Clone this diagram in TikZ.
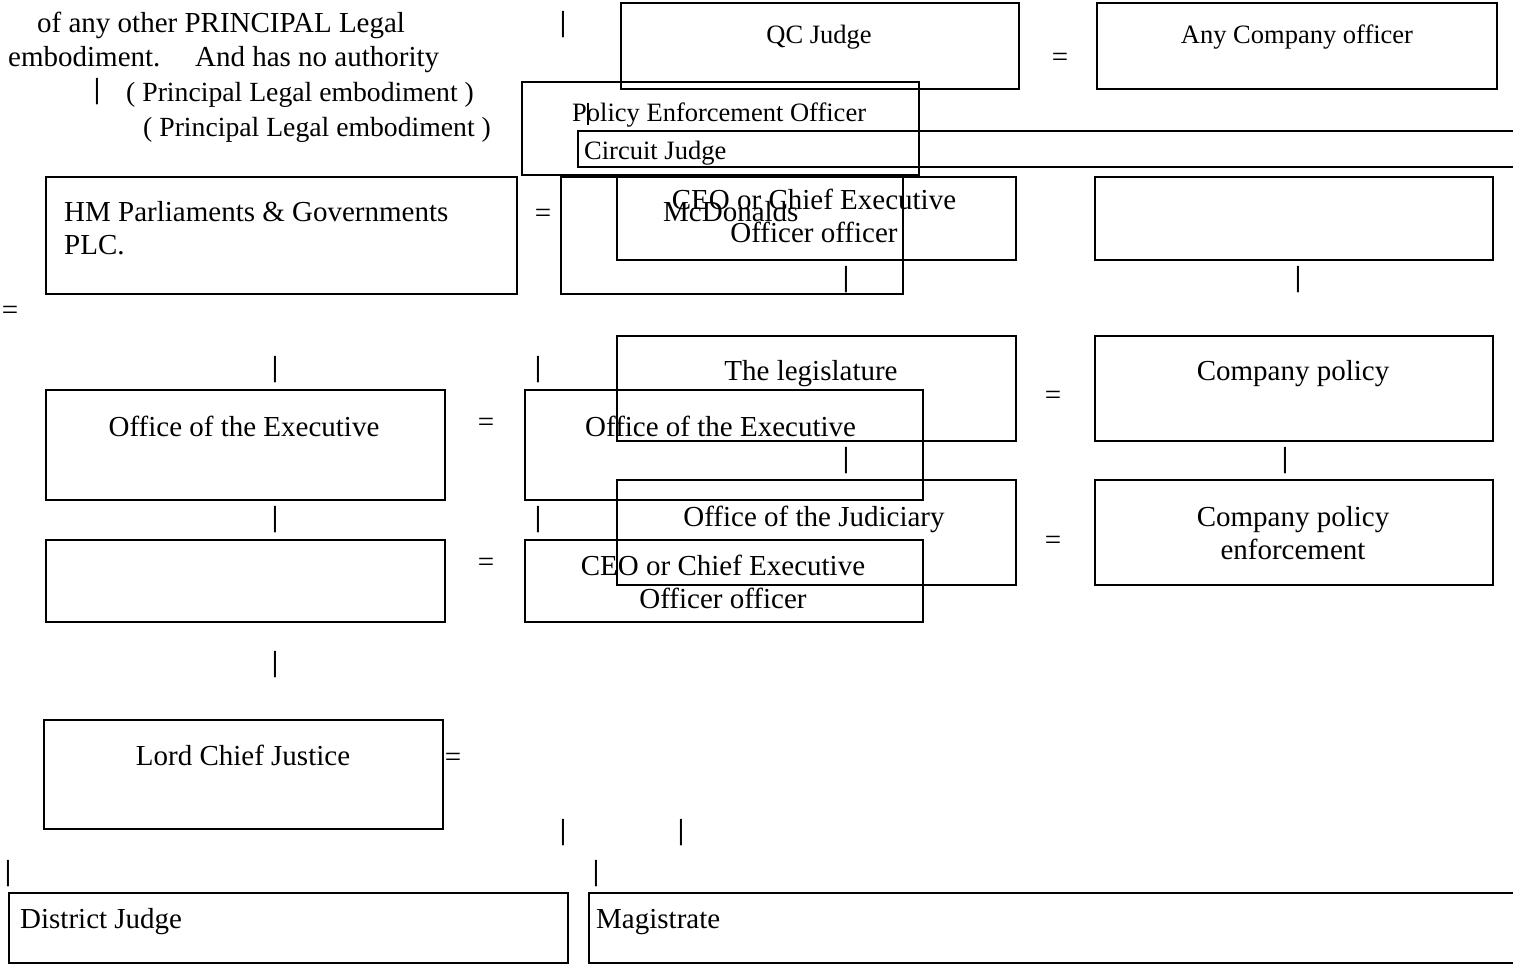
\documentclass[tikz,border=0pt]{standalone}
\usepackage{fontspec}
\setmainfont{Liberation Serif}
\newcommand{\bigf}{\fontsize{29}{33}\selectfont}
\newcommand{\smallf}{\fontsize{26.5}{30}\selectfont}
\newcommand{\midf}{\fontsize{27.7}{32}\selectfont}
\begin{document}
\begin{tikzpicture}[x=1pt,y=-1pt,
  boxline/.style={draw=black,line width=1.8pt},
  txt/.style={inner sep=0pt,font=\bigf},
  mtxt/.style={inner sep=0pt,font=\midf},
  stxt/.style={inner sep=0pt,font=\smallf},
  sym/.style={inner sep=0pt,font=\bigf,anchor=center},
  bar/.style={inner sep=0pt,font=\bigf\bfseries,anchor=center}]
\useasboundingbox (0,0) rectangle (1513,965);
% top-left free text
\node[txt,anchor=base west] (t1) at (37,33) {of any other PRINCIPAL Legal};
\node[txt,anchor=base west] (t2) at (8,67) {embodiment.\hspace{25pt} And has no authority};
\node[bar] (b1) at (97,92) {|};
\node[mtxt,anchor=base west] (t3) at (126,102) {( Principal Legal embodiment )};
\node[mtxt,anchor=base west] (t4) at (143,137) {( Principal Legal embodiment )};
\node[bar] (b2) at (563,25) {|};
% top row
\draw[boxline] (621,3) rectangle (1019,89);
\node[stxt,anchor=base] (qc) at (819,44) {QC Judge};
\node[sym] (e1) at (1060,60) {=};
\draw[boxline] (1097,3) rectangle (1497,89);
\node[stxt,anchor=base] (any) at (1297,44) {Any Company officer};
\draw[boxline] (522,82) rectangle (919,175);
\node[stxt,anchor=base west] (peo) at (572,122) {Policy Enforcement Officer};
\draw[line width=1.2pt] (588,103) -- (588,125);
\draw[boxline] (578,131) rectangle (1530,167);
\node[stxt,anchor=base west] (cj) at (584,160) {Circuit Judge};
% row 2
\draw[boxline] (46,177) rectangle (517,294);
\node[txt,anchor=base west] (hm1) at (64,222) {HM Parliaments \& Governments};
\node[txt,anchor=base west] (hm2) at (64,255) {PLC.};
\node[sym] (e2) at (543,216) {=};
\draw[boxline] (561,177) rectangle (903,294);
\node[txt,anchor=base west] (mcd) at (663,222) {McDonalds};
\draw[boxline] (617,177) rectangle (1016,260);
\node[txt,anchor=base] (ceo1a) at (814,210) {CEO or Chief Executive};
\node[txt,anchor=base] (ceo1b) at (814,243) {Officer officer};
\node[bar] (b3) at (846,280) {|};
\draw[boxline] (1095,177) rectangle (1493,260);
\node[bar] (b4) at (1298,280) {|};
\node[sym] (e3) at (10,313) {=};
% row 3
\node[bar] (b5) at (275,370) {|};
\node[bar] (b6) at (538,370) {|};
\draw[boxline] (617,336) rectangle (1016,441);
\node[txt,anchor=base] (leg) at (811,381) {The legislature};
\node[sym] (e4) at (1053,398) {=};
\draw[boxline] (1095,336) rectangle (1493,441);
\node[txt,anchor=base] (cp) at (1293,381) {Company policy};
\draw[boxline] (46,390) rectangle (445,500);
\node[txt,anchor=base] (oe1) at (244,436) {Office of the Executive};
\node[sym] (e5) at (486,425) {=};
\draw[boxline] (525,390) rectangle (923,500);
\node[txt,anchor=base west] (oe2) at (585,436) {Office of the Executive};
\node[bar] (b7) at (846,461) {|};
\node[bar] (b8) at (1285,461) {|};
% row 4
\node[bar] (b9) at (275,520) {|};
\node[bar] (b10) at (538,520) {|};
\draw[boxline] (617,480) rectangle (1016,585);
\node[txt,anchor=base] (jud) at (814,526) {Office of the Judiciary};
\node[sym] (e6) at (1053,543) {=};
\draw[boxline] (1095,480) rectangle (1493,585);
\node[txt,anchor=base] (cpe1) at (1293,526) {Company policy};
\node[txt,anchor=base] (cpe2) at (1293,559) {enforcement};
\draw[boxline] (46,540) rectangle (445,622);
\node[sym] (e7) at (486,565) {=};
\draw[boxline] (525,540) rectangle (923,622);
\node[txt,anchor=base] (ceo2a) at (723,575) {CEO or Chief Executive};
\node[txt,anchor=base] (ceo2b) at (723,608) {Officer officer};
% row 5
\node[bar] (b11) at (275,665) {|};
\draw[boxline] (44,720) rectangle (443,829);
\node[txt,anchor=base] (lcj) at (243,765) {Lord Chief Justice};
\node[sym] (e8) at (453,760) {=};
\node[bar] (b12) at (563,833) {|};
\node[bar] (b13) at (681,833) {|};
\node[bar] (b14) at (8,874) {|};
\node[bar] (b15) at (596,874) {|};
\draw[boxline] (9,893) rectangle (568,963);
\node[txt,anchor=base west] (dj) at (20,928) {District Judge};
\draw[boxline] (589,893) rectangle (1530,963);
\node[txt,anchor=base west] (mag) at (596,928) {Magistrate};
\end{tikzpicture}
\end{document}
